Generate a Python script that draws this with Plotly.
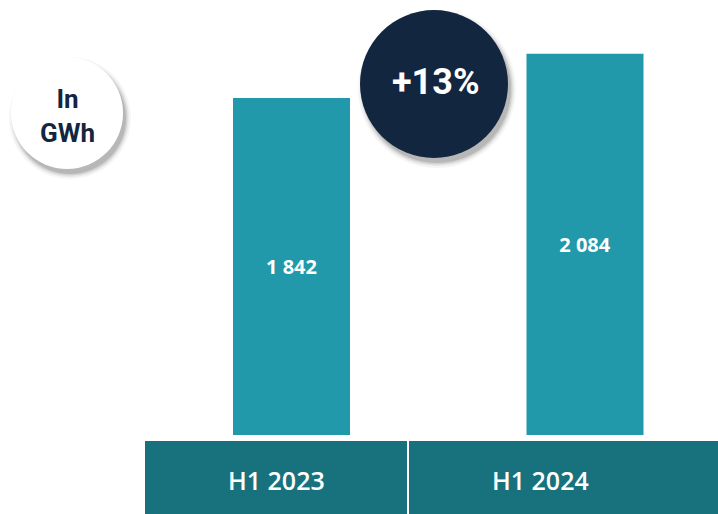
import plotly.graph_objects as go

categories = ["H1 2023", "H1 2024"]
values = [1842, 2084]
unit_label = "In<br>GWh"
growth_label = "+13%"

OFF = 0
W, H = 718, 514
BAR = "#2199AA"
BAND = "#17727E"
NAVY = "#12263F"

# y range: 0 at ref px 435, 337px per 1842 units
ppu = 337 / 1842
zero_px = 435 - OFF
y_top = zero_px / ppu
y_bot = -(H - zero_px) / ppu
# x range: category 0 at ref px 291.5, category 1 at ref px 585
ppx = 293.5
c0 = 291.5 - OFF
x_left = -c0 / ppx
x_right = (W - c0) / ppx

def px(x):
    return (x - OFF) / W

def py(y):
    return 1 - (y - OFF) / H

fig = go.Figure()
fig.add_trace(go.Bar(
    x=[0, 1], y=values, width=117 / ppx,
    marker=dict(color=BAR, line=dict(width=0)),
    texttemplate="%{y:,}", textposition="inside", insidetextanchor="middle",
    textfont=dict(family="Open Sans", size=20, color="white", weight=700),
    hoverinfo="skip",
))

shapes = []
shapes.append(dict(type="rect", xref="paper", yref="paper",
                   x0=px(145), x1=px(407), y0=py(518), y1=py(441),
                   fillcolor=BAND, line=dict(width=0), layer="below"))
shapes.append(dict(type="rect", xref="paper", yref="paper",
                   x0=px(409), x1=px(722), y0=py(518), y1=py(441),
                   fillcolor=BAND, line=dict(width=0), layer="below"))

def circle(cx, cy, r, color):
    out = []
    for dr, op in [(5, 0.04), (3, 0.06), (1.5, 0.09), (0, 0.12)]:
        out.append(dict(type="circle", xref="paper", yref="paper",
                        x0=px(cx + 3 - r - dr), x1=px(cx + 3 + r + dr),
                        y0=py(cy + 5 + r + dr), y1=py(cy + 5 - r - dr),
                        fillcolor="rgba(0,0,0,%s)" % op, line=dict(width=0)))
    out.append(dict(type="circle", xref="paper", yref="paper",
                    x0=px(cx - r), x1=px(cx + r),
                    y0=py(cy + r), y1=py(cy - r),
                    fillcolor=color, line=dict(width=0)))
    return out

shapes += circle(67, 113, 56, "white")
shapes += circle(434, 84, 74, NAVY)

annotations = [
    dict(x=px(67), y=py(116), xref="paper", yref="paper", text=unit_label,
         showarrow=False, font=dict(family="Roboto", size=26, color=NAVY, weight=700),
         xanchor="center", yanchor="middle"),
    dict(x=px(436), y=py(82), xref="paper", yref="paper", text=growth_label,
         showarrow=False, font=dict(family="Roboto", size=36, color="white", weight=700),
         xanchor="center", yanchor="middle"),
]
for cat, cxp in zip(categories, [276, 540]):
    annotations.append(dict(x=px(cxp), y=py(480), xref="paper", yref="paper", text=cat,
                            showarrow=False,
                            font=dict(family="Open Sans", size=25, color="white", weight=600),
                            xanchor="center", yanchor="middle"))

fig.update_layout(
    width=W, height=H, margin=dict(l=0, r=0, t=0, b=0),
    paper_bgcolor="white", plot_bgcolor="white",
    separators=". ",
    showlegend=False,
    xaxis=dict(range=[x_left, x_right], visible=False, fixedrange=True),
    yaxis=dict(range=[y_bot, y_top], visible=False, fixedrange=True),
    shapes=shapes, annotations=annotations,
)

fig.write_html("out.html", config={"displayModeBar": False},
               post_script="document.body.style.margin='0';document.body.style.overflow='hidden';")
